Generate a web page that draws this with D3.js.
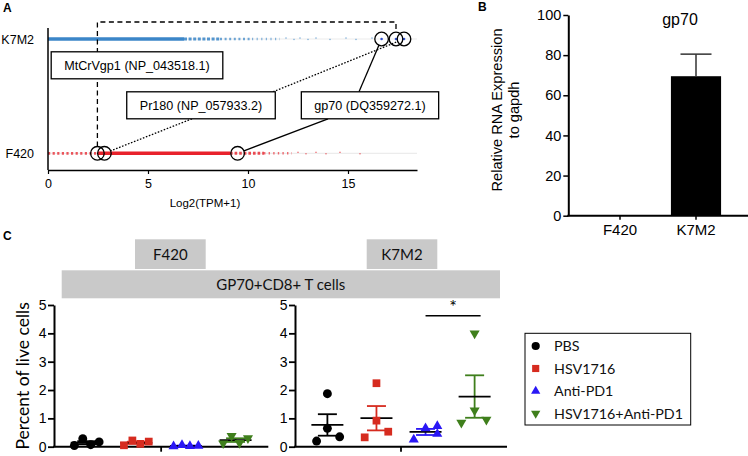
<!DOCTYPE html>
<html><head><meta charset="utf-8">
<script src="https://cdn.jsdelivr.net/npm/d3@7"></script>
<style>body{margin:0;background:#fff} svg{display:block}</style>
</head><body><svg id="c" width="748" height="456"></svg>
<script>
// ---------------- Panel A data ----------------
const rowNames = ["K7M2", "F420"];
const axisATicks = [0, 5, 10, 15];
const geneNames = ["MtCrVgp1 (NP_043518.1)", "Pr180 (NP_057933.2)", "gp70 (DQ359272.1)"];
const geneF420 = [2.47, 2.82, 9.48];
const geneK7M2 = [17.4, 17.8, 16.68];
// density of genes along Log2(TPM+1): [from, to, relative density]
const k7m2Density = [[0, 6.8, 1], [6.8, 8.6, 0.75], [8.6, 10.2, 0.5], [10.2, 11.6, 0.3]];
const f420Density = [[0, 2.5, 0.55], [2.5, 9.1, 1], [9.1, 10.8, 0.65], [10.8, 12.2, 0.35]];
const k7m2Tail = [11.9, 12.3, 12.6, 13.0, 13.4, 14.1, 14.9, 15.4, 16.2];
const f420Tail = [12.5, 12.9, 13.4, 13.9, 14.6, 15.6];

// ---------------- Panel B data ----------------
const cellLines = ["F420", "K7M2"];
const gp70Expr = [0, 69.5];
const gp70Err = [0, 11];
const yTicksB = [0, 20, 40, 60, 80, 100];

// ---------------- Panel C data ----------------
const groups = ["PBS", "HSV1716", "Anti-PD1", "HSV1716+Anti-PD1"];
const yTicksC = [0, 1, 2, 3, 4, 5];
const f420Values = [
  [0.04, 0.28, 0.07, 0.17],
  [0.05, 0.22, 0.10, 0.18],
  [0.01, 0.06, 0.02, 0.03],
  [0.12, 0.38, 0.13, 0.30]
];
const f420Jitter = [
  [-0.25, -0.08, 0.08, 0.25],
  [-0.25, -0.08, 0.08, 0.25],
  [-0.25, -0.08, 0.08, 0.25],
  [-0.25, -0.08, 0.08, 0.25]
];
const k7m2Values = [
  [0.20, 1.87, 0.65, 0.35],
  [0.33, 2.24, 0.92, 0.53],
  [0.25, 0.65, 0.73, 0.45],
  [0.85, 4.00, 1.28, 0.95]
];
const k7m2Jitter = [
  [-0.22, 0, 0, 0.25],
  [-0.24, 0, 0, 0.24],
  [-0.24, 0, 0.24, 0.24],
  [-0.27, 0, 0, 0.24]
];

// ---------------- styles ----------------
const HELV = "'Liberation Sans', Arial, Helvetica, sans-serif";
const CAL = "Lato, 'Open Sans', sans-serif";
const blueA = "#3b86c8", redA = "#e8222b";
const groupColors = ["#000000", "#d62b1f", "#2a17f5", "#3f7f1c"];
const groupSymbols = [d3.symbolCircle, d3.symbolSquare, d3.symbolTriangle, d3.symbolTriangle];
const groupRot = [0, 0, 0, 180];
const groupSizes = [62, 60, 44, 44];

const svg = d3.select("#c");

// ================= Panel A =================
const gA = svg.append("g");
const xA = d3.scaleLinear().domain([0, 18.45]).range([48, 417]);
const yA = d3.scalePoint().domain(rowNames).range([39, 153.3]);

gA.append("text").attr("x", 3).attr("y", 12).attr("font-family", HELV)
  .attr("font-weight", "bold").attr("font-size", 12).text("A");

rowNames.forEach(r => {
  gA.append("line").attr("x1", xA(0)).attr("x2", xA.range()[1])
    .attr("y1", yA(r)).attr("y2", yA(r)).attr("stroke", "#ececec").attr("stroke-width", 1.2);
});

function drawDensity(segs, tail, row, color) {
  const y = yA(row);
  segs.forEach(d => {
    const l = gA.append("line").attr("x1", xA(d[0])).attr("x2", xA(d[1]))
      .attr("y1", y).attr("y2", y).attr("stroke", color)
      .attr("stroke-width", 2 + 1.4 * d[2]).attr("opacity", 0.45 + 0.55 * d[2]);
    if (d[2] < 1) l.attr("stroke-dasharray", `${(4 * d[2]).toFixed(2)},${(4 * (1 - d[2]) + 0.6).toFixed(2)}`);
  });
  gA.selectAll(null).data(tail).join("rect")
    .attr("x", d => xA(d) - 0.8).attr("width", 1.6)
    .attr("y", (d, i) => y - 1 + (i % 2 ? 0.8 : -0.6)).attr("height", 1.3)
    .attr("fill", color).attr("opacity", 0.55);
}
drawDensity(k7m2Density, k7m2Tail, "K7M2", blueA);
drawDensity(f420Density, f420Tail, "F420", redA);

// axes
gA.append("line").attr("x1", 48).attr("x2", 48).attr("y1", 28).attr("y2", 170)
  .attr("stroke", "#000").attr("stroke-width", 1.5);
const axA = gA.append("g").attr("transform", "translate(0,170)")
  .call(d3.axisBottom(xA).tickValues(axisATicks).tickSize(4).tickSizeOuter(0).tickPadding(5));
axA.select(".domain").attr("stroke-width", 1.5);
axA.selectAll(".tick line").attr("stroke-width", 1.2);
axA.selectAll("text").attr("font-family", HELV).attr("font-size", 12.5).attr("fill", "#000");
gA.append("text").attr("x", xA(7.85)).attr("y", 207).attr("text-anchor", "middle")
  .attr("font-family", HELV).attr("font-size", 11.5).text("Log2(TPM+1)");
rowNames.forEach(r => {
  gA.append("text").attr("x", 34).attr("y", yA(r) + 4.5).attr("text-anchor", "end")
    .attr("font-family", HELV).attr("font-size", 12.5).text(r);
});

// connectors
const R = 6.8;
const yK = yA("K7M2"), yF = yA("F420");
// label box layout (pixel centres) and connector anchors
const boxLayout = [
  {cx: 137, cy: 65.3},
  {cx: 201, cy: 105.3, bot: -9, top: 72},
  {cx: 370, cy: 105.3, bot: -42, top: -11}
];
const boxH = 27;
function shorten(x1, y1, x2, y2, r) {
  const dx = x2 - x1, dy = y2 - y1, L = Math.hypot(dx, dy);
  return [x2 - dx / L * r, y2 - dy / L * r];
}
// MtCrVgp1 dashed bracket
gA.append("path")
  .attr("d", `M${xA(geneF420[0])},${yF - R} V22 H${xA(geneK7M2[0])} V${yK - R}`)
  .attr("fill", "none").attr("stroke", "#000").attr("stroke-width", 1.3).attr("stroke-dasharray", "5,3.5");
// Pr180 dotted, gp70 solid
[[1, "1.6,1.6"], [2, null]].forEach(([i, dash]) => {
  const b = boxLayout[i];
  const bx = b.cx + b.bot, by = b.cy + boxH / 2;
  const tx = b.cx + b.top, ty = b.cy - boxH / 2;
  const p1 = shorten(bx, by, xA(geneF420[i]), yF, R);
  const p2 = shorten(tx, ty, xA(geneK7M2[i]), yK, R);
  [[bx, by, p1], [tx, ty, p2]].forEach(([x0, y0, p]) => {
    const l = gA.append("line").attr("x1", x0).attr("y1", y0).attr("x2", p[0]).attr("y2", p[1])
      .attr("stroke", "#000").attr("stroke-width", 1.3);
    if (dash) l.attr("stroke-dasharray", dash);
  });
});
// label boxes
geneNames.forEach((name, i) => {
  const b = boxLayout[i];
  const g = gA.append("g");
  const rect = g.append("rect").attr("fill", "#fff").attr("stroke", "#000").attr("stroke-width", 1.3);
  const t = g.append("text").attr("x", b.cx).attr("y", b.cy + 4.5).attr("text-anchor", "middle")
    .attr("font-family", HELV).attr("font-size", 12.6).text(name);
  const w = t.node().getComputedTextLength() + 26;
  rect.attr("x", b.cx - w / 2).attr("y", b.cy - boxH / 2).attr("width", w).attr("height", boxH);
});
// highlighted gene circles
geneK7M2.forEach(v => {
  gA.append("circle").attr("cx", xA(v)).attr("cy", yK).attr("r", 1.3).attr("fill", "#3050d0");
});
[...geneF420.map(v => [v, yF]), ...geneK7M2.map(v => [v, yK])].forEach(([v, y]) => {
  gA.append("circle").attr("cx", xA(v)).attr("cy", y).attr("r", R)
    .attr("fill", "none").attr("stroke", "#000").attr("stroke-width", 1.3);
});

// ================= Panel B =================
const gB = svg.append("g");
const yB = d3.scaleLinear().domain([0, 100]).range([215.7, 15]);
const xB = d3.scaleBand().domain(cellLines).range([582, 734]).paddingInner(0.34).paddingOuter(0.17);
gB.append("text").attr("x", 478).attr("y", 11).attr("font-family", HELV)
  .attr("font-weight", "bold").attr("font-size", 12).text("B");
gB.selectAll(null).data(cellLines).join("rect")
  .attr("x", d => xB(d)).attr("width", xB.bandwidth())
  .attr("y", (d, i) => yB(gp70Expr[i])).attr("height", (d, i) => yB(0) - yB(gp70Expr[i]))
  .attr("fill", "#000");
cellLines.forEach((c, i) => {
  if (gp70Err[i] <= 0) return;
  const cx = xB(c) + xB.bandwidth() / 2;
  gB.append("line").attr("x1", cx).attr("x2", cx).attr("y1", yB(gp70Expr[i])).attr("y2", yB(gp70Expr[i] + gp70Err[i]))
    .attr("stroke", "#333").attr("stroke-width", 1.5);
  gB.append("line").attr("x1", cx - 15.5).attr("x2", cx + 15.5)
    .attr("y1", yB(gp70Expr[i] + gp70Err[i])).attr("y2", yB(gp70Expr[i] + gp70Err[i]))
    .attr("stroke", "#333").attr("stroke-width", 1.5);
});
const axBy = gB.append("g").attr("transform", "translate(568.3,0)")
  .call(d3.axisLeft(yB).tickValues(yTicksB).tickSize(5).tickSizeOuter(0).tickPadding(2));
axBy.select(".domain").attr("stroke-width", 2);
axBy.selectAll(".tick line").attr("stroke-width", 1.5);
axBy.selectAll("text").attr("font-family", HELV).attr("font-size", 14.5).attr("fill", "#000");
gB.append("line").attr("x1", 567.3).attr("x2", 748).attr("y1", yB(0)).attr("y2", yB(0))
  .attr("stroke", "#000").attr("stroke-width", 2);
cellLines.forEach(c => {
  const cx = xB(c) + xB.bandwidth() / 2;
  gB.append("line").attr("x1", cx).attr("x2", cx).attr("y1", yB(0)).attr("y2", yB(0) + 4)
    .attr("stroke", "#000").attr("stroke-width", 1.5);
  gB.append("text").attr("x", cx).attr("y", 234.5).attr("text-anchor", "middle")
    .attr("font-family", HELV).attr("font-size", 15).text(c);
});
gB.append("text").attr("x", 680).attr("y", 25).attr("text-anchor", "middle")
  .attr("font-family", HELV).attr("font-size", 16).text("gp70");
gB.append("text").attr("transform", "translate(502,110) rotate(-90)").attr("text-anchor", "middle")
  .attr("font-family", HELV).attr("font-size", 14.6).text("Relative RNA Expression");
gB.append("text").attr("transform", "translate(518.5,110) rotate(-90)").attr("text-anchor", "middle")
  .attr("font-family", HELV).attr("font-size", 14.6).text("to gapdh");

// ================= Panel C =================
const gC = svg.append("g");
gC.append("text").attr("x", 3).attr("y", 240).attr("font-family", HELV)
  .attr("font-weight", "bold").attr("font-size", 12).text("C");
const yC = d3.scaleLinear().domain([0, 5]).range([446.7, 305]);

function grayBox(x0, x1, y0, y1, label) {
  gC.append("rect").attr("x", x0).attr("y", y0).attr("width", x1 - x0).attr("height", y1 - y0).attr("fill", "#c9c9c9");
  gC.append("text").attr("x", (x0 + x1) / 2).attr("y", (y0 + y1) / 2 + 5.5).attr("text-anchor", "middle")
    .attr("font-family", CAL).attr("font-size", 15).attr("fill", "#111").text(label);
}
grayBox(135, 205.7, 239.3, 269, "F420");
grayBox(366.7, 437.3, 239.3, 269, "K7M2");
grayBox(61.7, 500, 270.3, 298.3, "GP70+CD8+ T cells");

gC.append("text").attr("transform", `translate(28.5,${(yC(0) + yC(5)) / 2}) rotate(-90)`)
  .attr("text-anchor", "middle").attr("font-family", CAL).attr("font-size", 17.5).text("Percent of live cells");

function mean(a) { return d3.mean(a); }
function sem(a) { return d3.deviation(a) / Math.sqrt(a.length); }

function dotPlot(x0, x1, values, jitter) {
  const xs = d3.scalePoint().domain(groups).range([x0, x1]).padding(0.66);
  const step = xs.step();
  const ax = gC.append("g").attr("transform", `translate(${x0},0)`)
    .call(d3.axisLeft(yC).tickValues(yTicksC).tickFormat(d3.format("d")).tickSize(6).tickSizeOuter(0).tickPadding(1.5));
  ax.select(".domain").attr("stroke-width", 2);
  ax.selectAll(".tick line").attr("stroke-width", 1.8);
  ax.selectAll("text").attr("font-family", HELV).attr("font-size", 14).attr("fill", "#000");
  gC.append("line").attr("x1", x0 - 1).attr("x2", x1).attr("y1", yC(0)).attr("y2", yC(0))
    .attr("stroke", "#000").attr("stroke-width", 2);
  gC.append("line").attr("x1", (x0 + x1) / 2).attr("x2", (x0 + x1) / 2).attr("y1", yC(0)).attr("y2", yC(0) + 5)
    .attr("stroke", "#000").attr("stroke-width", 1.8);
  groups.forEach((gname, gi) => {
    const cx = xs(gname);
    const vals = values[gi];
    const m = mean(vals), s = sem(vals);
    const col = groupColors[gi];
    // sem bars
    gC.append("line").attr("x1", cx).attr("x2", cx).attr("y1", yC(m - s)).attr("y2", yC(m + s))
      .attr("stroke", col).attr("stroke-width", 1.8);
    [m - s, m + s].forEach(v => {
      gC.append("line").attr("x1", cx - 9.5).attr("x2", cx + 9.5).attr("y1", yC(v)).attr("y2", yC(v))
        .attr("stroke", col).attr("stroke-width", 1.8);
    });
    gC.append("line").attr("x1", cx - 16).attr("x2", cx + 16).attr("y1", yC(m)).attr("y2", yC(m))
      .attr("stroke", "#000").attr("stroke-width", 1.8);
    // points
    vals.forEach((v, k) => {
      gC.append("path")
        .attr("d", d3.symbol().type(groupSymbols[gi]).size(groupSizes[gi])())
        .attr("transform", `translate(${cx + jitter[gi][k] * step},${yC(v)}) rotate(${groupRot[gi]})`)
        .attr("fill", col);
    });
  });
  return xs;
}
dotPlot(54, 268.3, f420Values, f420Jitter);
const xsK = dotPlot(295, 507, k7m2Values, k7m2Jitter);

// significance bar between Anti-PD1 and HSV1716+Anti-PD1 (K7M2)
gC.append("line").attr("x1", xsK("Anti-PD1")).attr("x2", xsK("HSV1716+Anti-PD1") + 6)
  .attr("y1", 315.7).attr("y2", 315.7).attr("stroke", "#000").attr("stroke-width", 1.6);
gC.append("text").attr("x", (xsK("Anti-PD1") + xsK("HSV1716+Anti-PD1") + 6) / 2).attr("y", 313)
  .attr("text-anchor", "middle").attr("font-family", CAL).attr("font-size", 18).text("*");

// legend
const lg = gC.append("g");
lg.append("rect").attr("x", 525).attr("y", 333.3).attr("width", 165.7).attr("height", 91.7)
  .attr("fill", "#fff").attr("stroke", "#000").attr("stroke-width", 1);
groups.forEach((gname, gi) => {
  const y = 346 + gi * 22.5;
  lg.append("path").attr("d", d3.symbol().type(groupSymbols[gi]).size(groupSizes[gi] * 0.85)())
    .attr("transform", `translate(535.7,${y}) rotate(${groupRot[gi]})`).attr("fill", groupColors[gi]);
  lg.append("text").attr("x", 554).attr("y", y + 5).attr("font-family", CAL).attr("font-size", 14.3)
    .attr("fill", "#111").text(gname);
});
</script></body></html>
